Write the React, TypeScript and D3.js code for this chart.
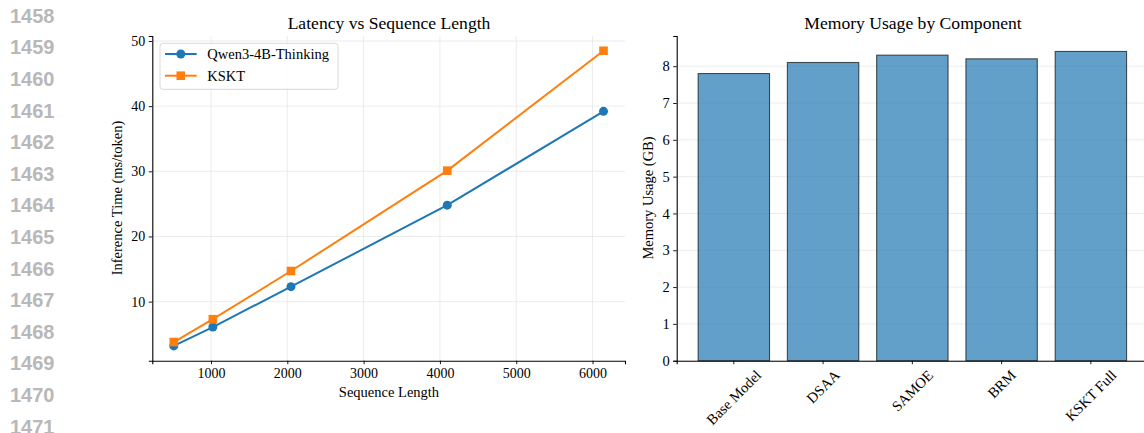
import * as d3 from "d3";
import { useEffect, useRef } from "react";

const width = 1144;
const height = 433;

const lineNumbers = [1458, 1459, 1460, 1461, 1462, 1463, 1464, 1465, 1466, 1467, 1468, 1469, 1470, 1471];

const seqLengths = [512, 1024, 2048, 4096, 6144];
const qwenLatency = [3.2, 6.1, 12.3, 24.8, 39.2];
const ksktLatency = [3.8, 7.3, 14.7, 30.1, 48.5];
const latencyXTicks = [1000, 2000, 3000, 4000, 5000, 6000];
const latencyYTicks = [10, 20, 30, 40, 50];

const components = ["Base Model", "DSAA", "SAMOE", "BRM", "KSKT Full"];
const memoryGB = [7.8, 8.1, 8.3, 8.2, 8.4];
const memoryYTicks = [0, 1, 2, 3, 4, 5, 6, 7, 8];

const serif = "'Liberation Serif', 'Times New Roman', serif";
const blue = "#1f77b4";
const orange = "#ff7f0e";
const gridColor = "#e7e7e7";

function App() {
  const ref = useRef<SVGSVGElement>(null);

  useEffect(() => {
    const svg = d3.select(ref.current);
    svg.selectAll("*").remove();

    // gutter line numbers
    svg
      .append("g")
      .selectAll("text")
      .data(lineNumbers)
      .enter()
      .append("text")
      .attr("x", 10)
      .attr("y", (d, i) => 22.7 + i * 31.6)
      .style("font-family", "'Liberation Sans', Arial, sans-serif")
      .style("font-weight", "bold")
      .style("font-size", "20px")
      .style("fill", "#b8b8b8")
      .text((d) => d);

    // ---------- left: latency line chart ----------
    const xPad = (d3.max(seqLengths)! - d3.min(seqLengths)!) * 0.05;
    const allLat = qwenLatency.concat(ksktLatency);
    const yPad = (d3.max(allLat)! - d3.min(allLat)!) * 0.05;
    const x = d3
      .scaleLinear()
      .domain([d3.min(seqLengths)! - xPad, d3.max(seqLengths)! + xPad])
      .range([152.3, 625]);
    const y = d3
      .scaleLinear()
      .domain([d3.min(allLat)! - yPad, d3.max(allLat)! + yPad])
      .range([360.7, 36]);

    const left = svg.append("g");

    left
      .selectAll("line.vgrid")
      .data(latencyXTicks)
      .enter()
      .append("line")
      .attr("x1", (d) => x(d))
      .attr("x2", (d) => x(d))
      .attr("y1", 36)
      .attr("y2", 360.7)
      .style("stroke", gridColor)
      .style("stroke-width", 0.8);
    left
      .selectAll("line.hgrid")
      .data(latencyYTicks)
      .enter()
      .append("line")
      .attr("x1", 152.3)
      .attr("x2", 625)
      .attr("y1", (d) => y(d))
      .attr("y2", (d) => y(d))
      .style("stroke", gridColor)
      .style("stroke-width", 0.8);

    const series = [
      { name: "Qwen3-4B-Thinking", values: qwenLatency, color: blue, marker: "circle" },
      { name: "KSKT", values: ksktLatency, color: orange, marker: "square" },
    ];

    const line = d3
      .line<number>()
      .x((d, i) => x(seqLengths[i]))
      .y((d) => y(d));

    series.forEach((s) => {
      left
        .append("path")
        .attr("d", line(s.values))
        .style("fill", "none")
        .style("stroke", s.color)
        .style("stroke-width", 2);
      if (s.marker === "circle") {
        left
          .selectAll(null)
          .data(s.values)
          .enter()
          .append("circle")
          .attr("cx", (d, i) => x(seqLengths[i]))
          .attr("cy", (d) => y(d))
          .attr("r", 4.5)
          .style("fill", s.color);
      } else {
        left
          .selectAll(null)
          .data(s.values)
          .enter()
          .append("rect")
          .attr("x", (d, i) => x(seqLengths[i]) - 4.3)
          .attr("y", (d) => y(d) - 4.3)
          .attr("width", 8.6)
          .attr("height", 8.6)
          .style("fill", s.color);
      }
    });

    const styleAxis = (g: any, size: string) => {
      g.select(".domain").style("stroke", "#000").style("stroke-width", 1.1);
      g.selectAll(".tick line").style("stroke", "#000").style("stroke-width", 0.9);
      g.selectAll(".tick text")
        .style("font-family", serif)
        .style("font-size", size)
        .style("fill", "#000");
    };

    left
      .append("g")
      .attr("transform", "translate(0,360.7)")
      .call(
        d3.axisBottom(x).tickValues(latencyXTicks).tickSizeOuter(0).tickSize(3.5).tickPadding(3.5).tickFormat(d3.format("d"))
      )
      .call((g: any) => styleAxis(g, "14px"));
    left
      .append("g")
      .attr("transform", "translate(152.3,0)")
      .call(d3.axisLeft(y).tickValues(latencyYTicks).tickSizeOuter(0).tickSize(3.5).tickPadding(3.5))
      .call((g: any) => styleAxis(g, "14px"));

    left
      .append("text")
      .attr("x", 389)
      .attr("y", 29)
      .style("text-anchor", "middle")
      .style("font-family", serif)
      .style("font-size", "17.6px")
      .text("Latency vs Sequence Length");
    left
      .append("text")
      .attr("x", 389)
      .attr("y", 397)
      .style("text-anchor", "middle")
      .style("font-family", serif)
      .style("font-size", "14.5px")
      .text("Sequence Length");
    left
      .append("text")
      .attr("transform", "translate(121.5,198) rotate(-90)")
      .style("text-anchor", "middle")
      .style("font-family", serif)
      .style("font-size", "14.5px")
      .text("Inference Time (ms/token)");

    // legend
    const legend = left.append("g");
    legend
      .append("rect")
      .attr("x", 160)
      .attr("y", 43.3)
      .attr("width", 178)
      .attr("height", 46)
      .attr("rx", 3)
      .style("fill", "#fff")
      .style("fill-opacity", 0.8)
      .style("stroke", "#d5d5d5")
      .style("stroke-width", 0.9);
    series.forEach((s, i) => {
      const ly = 54 + i * 21.7;
      legend
        .append("line")
        .attr("x1", 165)
        .attr("x2", 196.7)
        .attr("y1", ly)
        .attr("y2", ly)
        .style("stroke", s.color)
        .style("stroke-width", 2);
      if (s.marker === "circle") {
        legend.append("circle").attr("cx", 180.8).attr("cy", ly).attr("r", 4.5).style("fill", s.color);
      } else {
        legend
          .append("rect")
          .attr("x", 180.8 - 4.3)
          .attr("y", ly - 4.3)
          .attr("width", 8.6)
          .attr("height", 8.6)
          .style("fill", s.color);
      }
      legend
        .append("text")
        .attr("x", 207.3)
        .attr("y", ly + 5)
        .style("font-family", serif)
        .style("font-size", "14.5px")
        .text(s.name);
    });

    // ---------- right: memory bar chart ----------
    const xb = d3
      .scaleBand()
      .domain(components)
      .range([676.7, 1148])
      .paddingInner(0.2)
      .paddingOuter(0.24);
    const yb = d3
      .scaleLinear()
      .domain([0, d3.max(memoryGB)! * 1.05])
      .range([360.7, 36]);

    const right = svg.append("g");
    right
      .selectAll("line.hgrid")
      .data(memoryYTicks)
      .enter()
      .append("line")
      .attr("x1", 676.7)
      .attr("x2", 1148)
      .attr("y1", (d) => yb(d))
      .attr("y2", (d) => yb(d))
      .style("stroke", gridColor)
      .style("stroke-width", 0.8);

    right
      .selectAll("rect.bar")
      .data(memoryGB)
      .enter()
      .append("rect")
      .attr("x", (d, i) => xb(components[i])!)
      .attr("y", (d) => yb(d))
      .attr("width", xb.bandwidth())
      .attr("height", (d) => yb(0) - yb(d))
      .style("fill", blue)
      .style("fill-opacity", 0.7)
      .style("stroke", "#000")
      .style("stroke-opacity", 0.65)
      .style("stroke-width", 1.1);

    const xAxisR = right
      .append("g")
      .attr("transform", "translate(0,360.7)")
      .call(d3.axisBottom(xb).tickSizeOuter(0).tickSize(3.5).tickPadding(3.5))
      .call((g: any) => styleAxis(g, "14.6px"));
    xAxisR.selectAll(".tick text").each(function () {
      const t = this as SVGTextElement;
      const L = t.getComputedTextLength();
      const h = 11;
      const cy = 8 + (L + h) / (2 * Math.SQRT2);
      d3.select(t)
        .attr("y", null)
        .attr("dy", null)
        .attr("dominant-baseline", "central")
        .attr("transform", `translate(0,${cy}) rotate(-45)`);
    });

    right
      .append("g")
      .attr("transform", "translate(676.7,0)")
      .call(d3.axisLeft(yb).tickValues(memoryYTicks).tickSizeOuter(0).tickSize(3.5).tickPadding(3.5))
      .call((g: any) => styleAxis(g, "14.5px"));

    right
      .append("text")
      .attr("x", 913)
      .attr("y", 29)
      .style("text-anchor", "middle")
      .style("font-family", serif)
      .style("font-size", "17.6px")
      .text("Memory Usage by Component");
    right
      .append("text")
      .attr("transform", "translate(653,198) rotate(-90)")
      .style("text-anchor", "middle")
      .style("font-family", serif)
      .style("font-size", "14.5px")
      .text("Memory Usage (GB)");
  }, []);

  return (
    <svg
      ref={ref}
      width={width}
      height={height}
      style={{ position: "absolute", left: 0, top: 0, background: "#fff" }}
    ></svg>
  );
}

export default App;
